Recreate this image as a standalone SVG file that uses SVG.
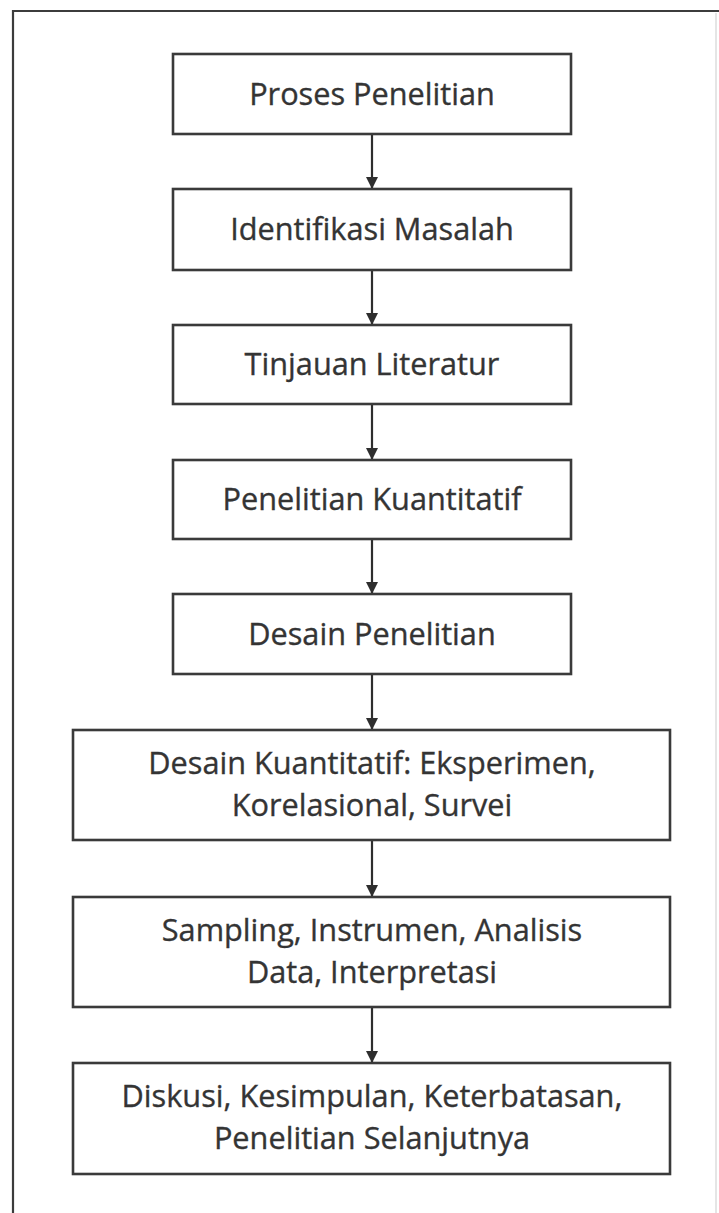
<svg xmlns="http://www.w3.org/2000/svg" width="719" height="1213" viewBox="0 0 719 1213">
  <style>
    .box { fill: #ffffff; stroke: #3a3a3a; stroke-width: 2.6; }
    .lbl { font-family: "Open Sans", "Noto Sans", "Liberation Sans", sans-serif; font-size: 30.7px; fill: #343434; stroke: #343434; stroke-width: 0.35; text-anchor: middle; }
    .edge { stroke: #2e2e2e; stroke-width: 2.2; fill: none; marker-end: url(#arrow); }
    .frame { stroke: #3c3c3c; stroke-width: 2.2; fill: none; }
  </style>
  <defs>
    <marker id="arrow" markerUnits="userSpaceOnUse" markerWidth="12" markerHeight="12" refX="12" refY="6" orient="auto">
      <path d="M0,0 L12,6 L0,12 z" fill="#2e2e2e"/>
    </marker>
  </defs>

  <rect x="0" y="0" width="719" height="1213" fill="#ffffff"/>

  <!-- page frame -->
  <g id="frame">
    <path class="frame" d="M13,1213 L13,11 L719,11"/>
    <line x1="716" y1="13" x2="716" y2="1213" stroke="#dcdcdc" stroke-width="1.5"/>
  </g>

  <!-- connectors -->
  <g id="connectors">
    <line class="edge" x1="372" y1="134" x2="372" y2="189"/>
    <line class="edge" x1="372" y1="270" x2="372" y2="325"/>
    <line class="edge" x1="372" y1="404" x2="372" y2="460"/>
    <line class="edge" x1="372" y1="539" x2="372" y2="594"/>
    <line class="edge" x1="372" y1="674" x2="372" y2="730"/>
    <line class="edge" x1="372" y1="840" x2="372" y2="897"/>
    <line class="edge" x1="372" y1="1007" x2="372" y2="1063"/>
  </g>

  <g id="proses-penelitian">
    <rect class="box" x="173" y="54" width="398" height="80"/>
    <text class="lbl" x="372" y="104.5">Proses Penelitian</text>
  </g>

  <g id="identifikasi-masalah">
    <rect class="box" x="173" y="189" width="398" height="81"/>
    <text class="lbl" x="372" y="240">Identifikasi Masalah</text>
  </g>

  <g id="tinjauan-literatur">
    <rect class="box" x="173" y="325" width="398" height="79"/>
    <text class="lbl" x="372" y="375">Tinjauan Literatur</text>
  </g>

  <g id="penelitian-kuantitatif">
    <rect class="box" x="173" y="460" width="398" height="79"/>
    <text class="lbl" x="372" y="510">Penelitian Kuantitatif</text>
  </g>

  <g id="desain-penelitian">
    <rect class="box" x="173" y="594" width="398" height="80"/>
    <text class="lbl" x="372" y="644.5">Desain Penelitian</text>
  </g>

  <g id="desain-kuantitatif">
    <rect class="box" x="73" y="730" width="597" height="110"/>
    <text class="lbl" x="372" y="773.5">Desain Kuantitatif: Eksperimen,</text>
    <text class="lbl" x="372" y="815.5">Korelasional, Survei</text>
  </g>

  <g id="sampling-analisis">
    <rect class="box" x="73" y="897" width="597" height="110"/>
    <text class="lbl" x="372" y="940.5">Sampling, Instrumen, Analisis</text>
    <text class="lbl" x="372" y="982.5">Data, Interpretasi</text>
  </g>

  <g id="diskusi-kesimpulan">
    <rect class="box" x="73" y="1063" width="597" height="111"/>
    <text class="lbl" x="372" y="1107">Diskusi, Kesimpulan, Keterbatasan,</text>
    <text class="lbl" x="372" y="1149">Penelitian Selanjutnya</text>
  </g>
</svg>
